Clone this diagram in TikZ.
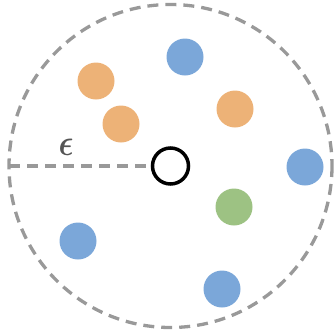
\documentclass[tikz,border=0pt]{standalone}
\usepackage{amsmath,bm,graphicx}
\begin{document}
\begin{tikzpicture}[x=1pt,y=-1pt,
  dot/.style={circle,inner sep=0pt,minimum size=37pt,draw=none},
  bluedot/.style={dot,fill=dblue},
  orangedot/.style={dot,fill=dorange},
  greendot/.style={dot,fill=dgreen},
  ringline/.style={draw=dgray,line width=3.3pt,dash pattern=on 11pt off 7pt}]
\definecolor{dblue}{RGB}{123,167,217}
\definecolor{dorange}{RGB}{237,178,119}
\definecolor{dgreen}{RGB}{157,194,131}
\definecolor{dgray}{RGB}{153,153,153}
\definecolor{tgray}{RGB}{85,85,85}
\useasboundingbox (0,0) rectangle (336,335);
\coordinate (c) at (170.5,166);
\draw[ringline] (c) circle[radius=161.5];
\node[bluedot] (b1) at (185,57) {};
\node[bluedot] (b2) at (305,167) {};
\node[bluedot] (b3) at (78,241) {};
\node[bluedot] (b4) at (222,289) {};
\node[orangedot] (o1) at (96,81) {};
\node[orangedot] (o2) at (121,124) {};
\node[orangedot] (o3) at (235,109) {};
\node[greendot] (g1) at (234,207) {};
\node[circle,draw=black,line width=3.5pt,minimum size=36pt,inner sep=0pt] (q) at (c) {};
\coordinate (e) at (9,166);
\draw[ringline] (e) -- (q.west);
\node[text=tgray,inner sep=0pt] (eps) at (66,147) {\scalebox{3.1}[3.7]{$\bm{\epsilon}$}};
\end{tikzpicture}
\end{document}
